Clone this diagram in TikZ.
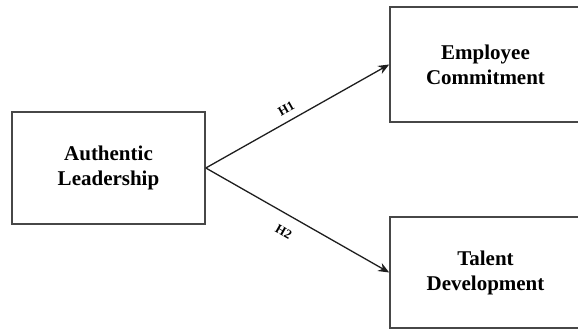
\documentclass[tikz,border=0pt]{standalone}
\usepackage{fontspec}
\setmainfont{Liberation Serif}
\usepackage{xcolor}
\usetikzlibrary{arrows.meta,positioning}
\definecolor{boxGray}{HTML}{474747}
\definecolor{linkBlack}{HTML}{1E1E1E}

\begin{document}
\begin{tikzpicture}[
  x=1pt,y=1pt,
  varbox/.style={draw=boxGray,line width=1.6pt,align=center,inner sep=0pt,
    font=\bfseries\fontsize{21}{25}\selectfont},
  link/.style={draw=linkBlack,line width=1.3pt,-{Stealth[length=11pt,width=9pt]}},
  hyp/.style={font=\bfseries\fontsize{13}{15}\selectfont,sloped,inner sep=1pt}
]
  \useasboundingbox (0,0) rectangle (578,331);
  \clip (0,0) rectangle (578,331);
  \node[varbox,minimum width=193pt,minimum height=112pt] (auth) at (108.5,163) {Authentic\\Leadership};
  \node[varbox,minimum width=191pt,minimum height=115pt] (commit) at (485.5,266.5) {Employee\\Commitment};
  \node[varbox,minimum width=191pt,minimum height=111pt] (talent) at (485.5,58.5) {Talent\\Development};
  \draw[link] (auth.east) -- node[hyp,above=6pt,pos=.47] (h1) {H1} (commit.west);
  \draw[link] (auth.east) -- node[hyp,below=11pt,pos=.47] (h2) {H2} (talent.west);
\end{tikzpicture}
\end{document}
